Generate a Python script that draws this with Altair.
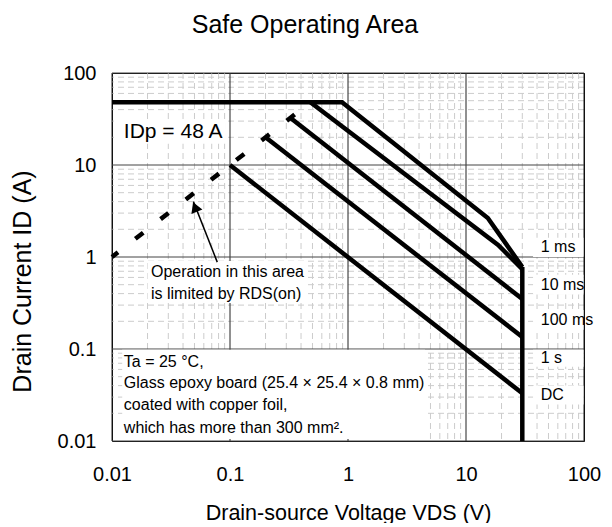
import altair as alt
import pandas as pd

FONT = "Liberation Sans"

# ---- SOA curves (VDS in V, ID in A) ----
v_1ms = [0.01, 0.89, 15.3, 30]
i_1ms = [48, 48, 2.65, 0.78]
v_10ms = [0.48, 18.7, 30]
i_10ms = [48, 1.35, 0.74]
v_100ms = [0.32, 30]
i_100ms = [33, 0.35]
v_1s = [0.2, 30]
i_1s = [20, 0.135]
v_dc = [0.1, 30]
i_dc = [10, 0.033]
v_vdss = [30, 30]
i_vdss = [0.78, 0.01]
v_rds = [0.01, 0.48]
i_rds = [1, 48]

decades = [0.01, 0.1, 1, 10, 100]
minor_mult = [2, 3, 4, 5, 6, 7, 8, 9]

chart_title = ["Safe Operating Area"]

curve_labels = ["1 ms", "10 ms", "100 ms", "1 s", "DC"]
label_v = [43, 43, 43, 43, 43]
label_i = [1.28, 0.5, 0.207, 0.08, 0.0316]

rds_note = ["Operation in this area", "is limited by RDS(on)"]
rds_note_v = [0.0214, 0.0214]
rds_note_i = [0.687, 0.396]

cond_note = ["Ta = 25 °C,",
             "Glass epoxy board (25.4 × 25.4 × 0.8 mm)",
             "coated with copper foil,",
             "which has more than 300 mm²."]
cond_v = [0.0126, 0.0126, 0.0126, 0.0126]
cond_i = [0.0723, 0.0427, 0.0246, 0.0138]

idp_text = ["IDp = 48 A"]
idp_v = [0.0126]
idp_i = [22.9]

arrow_v = [0.078, 0.049]
arrow_i = [0.88, 4.0]
arrow_head_v = [0.0505]
arrow_head_i = [3.49]

# white backgrounds behind the annotations (V1, V2, I1, I2)
bg_v1 = [0.0112, 0.0200, 0.0122, 37, 37, 37, 37, 37]
bg_v2 = [0.092, 0.44, 4.5, 99, 99, 99, 99, 99]
bg_i1 = [17.0, 0.316, 0.0105, 1.0, 0.39, 0.162, 0.064, 0.025]
bg_i2 = [31.0, 0.906, 0.098, 1.62, 0.64, 0.265, 0.098, 0.04]

# ---- tables ----
rows = []
for name, vs, is_ in [("1 ms", v_1ms, i_1ms), ("10 ms", v_10ms, i_10ms),
                      ("100 ms", v_100ms, i_100ms), ("1 s", v_1s, i_1s),
                      ("DC", v_dc, i_dc), ("VDSS", v_vdss, i_vdss)]:
    for k, (v, i) in enumerate(zip(vs, is_)):
        rows.append({"series": name, "ord": k, "V": v, "I": i})
curves = pd.DataFrame(rows)
rds = pd.DataFrame({"V": v_rds, "I": i_rds, "ord": [0, 1]})
minor_vals = pd.DataFrame({"V": [m * d for d in decades[:-1] for m in minor_mult]})
minor_vals["I"] = minor_vals["V"]
major_vals = pd.DataFrame({"V": decades, "I": decades})
bgs = pd.DataFrame({"V": bg_v1, "V2": bg_v2, "I": bg_i1, "I2": bg_i2})
lab = pd.DataFrame({"V": label_v, "I": label_i, "t": curve_labels})
note1 = pd.DataFrame({"V": rds_note_v, "I": rds_note_i, "t": rds_note})
note2 = pd.DataFrame({"V": cond_v, "I": cond_i, "t": cond_note})
idp = pd.DataFrame({"V": idp_v, "I": idp_i, "t": idp_text})
arrow = pd.DataFrame({"V": arrow_v, "I": arrow_i, "ord": [0, 1]})
head = pd.DataFrame({"V": arrow_head_v, "I": arrow_head_i})
ttl = pd.DataFrame({"t": chart_title})

xs = alt.Scale(type="log", domain=[0.01, 100], nice=False)
ys = alt.Scale(type="log", domain=[0.01, 100], nice=False)
xaxis = alt.Axis(values=decades, format="~g", grid=False, ticks=False, domain=False,
                 labelFont=FONT, labelFontSize=20, labelColor="black", labelPadding=23,
                 labelFlush=False, labelOverlap=False,
                 title="Drain-source Voltage VDS (V)", titleFont=FONT, titleFontSize=21.5,
                 titleFontWeight="normal", titleColor="black", titleY=78,
                 titleBaseline="alphabetic")
yaxis = alt.Axis(values=decades, format="~g", grid=False, ticks=False, domain=False,
                 labelFont=FONT, labelFontSize=20, labelColor="black", labelPadding=16,
                 labelFlush=False, labelOverlap=False,
                 title="Drain Current ID (A)", titleFont=FONT, titleFontSize=25,
                 titleFontWeight="normal", titleColor="black", titleX=-82, titleY=208,
                 titleAngle=-90, titleAlign="center", titleBaseline="alphabetic")

X = lambda: alt.X("V:Q", scale=xs, axis=xaxis)
Y = lambda: alt.Y("I:Q", scale=ys, axis=yaxis)

minor_x = alt.Chart(minor_vals).mark_rule(color="#cccccc", strokeWidth=1, strokeDash=[6, 4]).encode(x=X())
minor_y = alt.Chart(minor_vals).mark_rule(color="#cccccc", strokeWidth=1, strokeDash=[6, 4]).encode(y=Y())
major_x = alt.Chart(major_vals).mark_rule(color="#222222", strokeWidth=1).encode(x=X())
major_y = alt.Chart(major_vals).mark_rule(color="#444444", strokeWidth=1).encode(y=Y())
bg = alt.Chart(bgs).mark_rect(fill="white").encode(
    x=X(), x2="V2:Q", y=Y(), y2="I2:Q")
lines = alt.Chart(curves).mark_line(color="black", strokeWidth=4.5, strokeJoin="miter",
                                    strokeCap="butt").encode(
    x=X(), y=Y(), detail="series:N", order="ord:Q")
dashed = alt.Chart(rds).mark_line(color="black", strokeWidth=4.5, strokeDash=[10, 22],
                                  strokeDashOffset=2.4, strokeCap="butt").encode(
    x=X(), y=Y(), order="ord:Q")
t_lab = alt.Chart(lab).mark_text(align="left", baseline="middle", font=FONT, fontSize=16,
                                 color="black").encode(x=X(), y=Y(), text="t:N")
t_n1 = alt.Chart(note1).mark_text(align="left", baseline="middle", font=FONT, fontSize=16,
                                  color="black").encode(x=X(), y=Y(), text="t:N")
t_n2 = alt.Chart(note2).mark_text(align="left", baseline="middle", font=FONT, fontSize=16,
                                  color="black").encode(x=X(), y=Y(), text="t:N")
t_idp = alt.Chart(idp).mark_text(align="left", baseline="middle", font=FONT, fontSize=21,
                                 color="black").encode(x=X(), y=Y(), text="t:N")
arr = alt.Chart(arrow).mark_line(color="black", strokeWidth=1.5).encode(x=X(), y=Y(), order="ord:Q")
arr_head = alt.Chart(head).mark_point(shape="triangle-up", filled=True, color="black",
                                      size=140, angle=338, opacity=1).encode(x=X(), y=Y())
# chart title, placed above the plot area (centred on the page)
t_title = alt.Chart(ttl).mark_text(align="center", baseline="alphabetic", font=FONT,
                                   fontSize=25, color="black").encode(
    text="t:N", x=alt.value(193), y=alt.value(-40))

chart = alt.layer(minor_x, minor_y, major_x, major_y, bg, lines, dashed,
                  t_lab, t_n1, t_n2, t_idp, arr, arr_head, t_title).properties(
    width=472, height=368, autosize="none",
    padding={"left": 104, "top": 65, "right": 20, "bottom": 82},
    background="white",
).configure_view(stroke="black", strokeWidth=1)

chart.save("out.html", embed_options={"renderer": "svg", "actions": False})
